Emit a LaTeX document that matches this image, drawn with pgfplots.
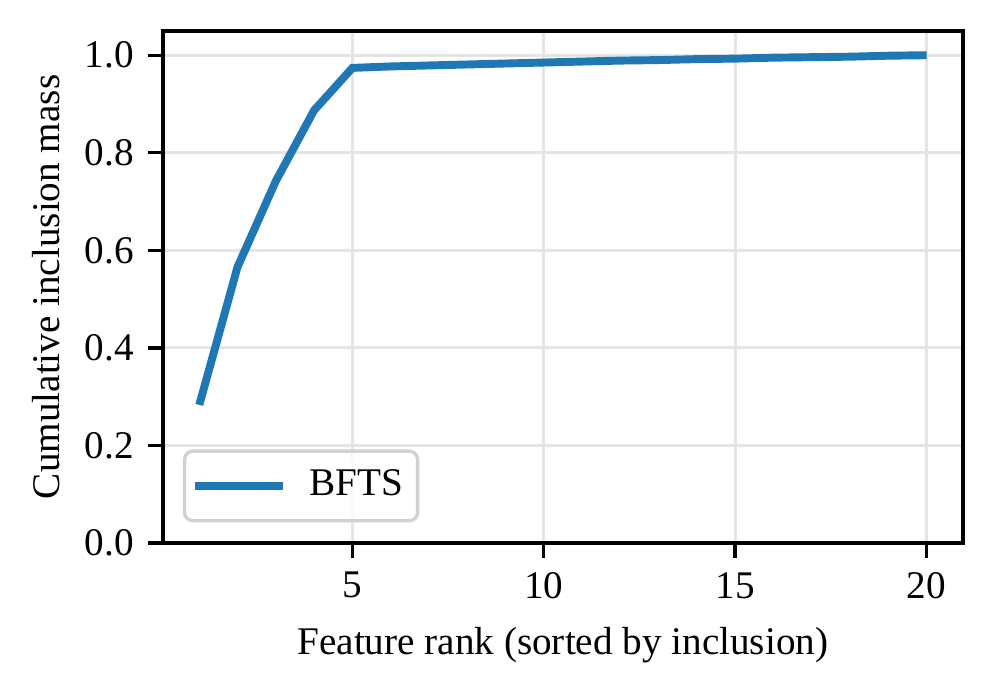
\documentclass[border=0pt]{standalone}
\usepackage{pgfplots}
\pgfplotsset{compat=1.18}
\usepackage{fontspec}
\setmainfont{Liberation Serif}
\definecolor{tabblue}{HTML}{1F77B4}
\begin{document}
\begin{tikzpicture}
\begin{axis}[
    scale only axis,
    width=192pt, height=122.9pt,
    xmin=0.05, xmax=20.95,
    ymin=0, ymax=1.05,
    xtick={5,10,15,20},
    ytick={0,0.2,0.4,0.6,0.8,1.0},
    yticklabel style={/pgf/number format/.cd, fixed, fixed zerofill, precision=1},
    /pgf/number format/assume math mode=true,
    tick align=outside,
    tick pos=left,
    major tick length=3.5pt,
    tick style={black, line width=0.8pt},
    axis line style={line width=0.8pt},
    font=\fontsize{9.4}{11.3}\selectfont,
    grid=major,
    grid style={line width=0.7pt, black!10},
    xlabel={Feature rank (sorted by inclusion)},
    ylabel={Cumulative inclusion mass},
    ylabel style={xshift=0pt, yshift=-1pt},
    legend cell align=left,
    legend style={draw=black!18, rounded corners=2pt, fill=white, fill opacity=0.8,
        text opacity=1, line width=0.8pt, at={(0.025,0.04)}, anchor=south west,
        inner xsep=1.5pt, inner ysep=2.5pt},
    legend image code/.code={\draw[#1] (0cm,0cm) -- (0.74cm,0cm); \path (0.74cm+3.5pt,0cm);},
]
\addplot[tabblue, line width=1.9pt] coordinates {
    (1,0.283) (2,0.566) (3,0.742) (4,0.887) (5,0.974)
    (6,0.977) (7,0.979) (8,0.981) (9,0.983) (10,0.985)
    (11,0.987) (12,0.989) (13,0.990) (14,0.992) (15,0.993)
    (16,0.995) (17,0.996) (18,0.997) (19,0.999) (20,1.000)
};
\addlegendentry{BFTS}
\end{axis}
\path (current axis.south west) ++(-39.1pt,-36pt) (current axis.north east) ++(7.7pt,7.4pt);
\end{tikzpicture}
\end{document}
